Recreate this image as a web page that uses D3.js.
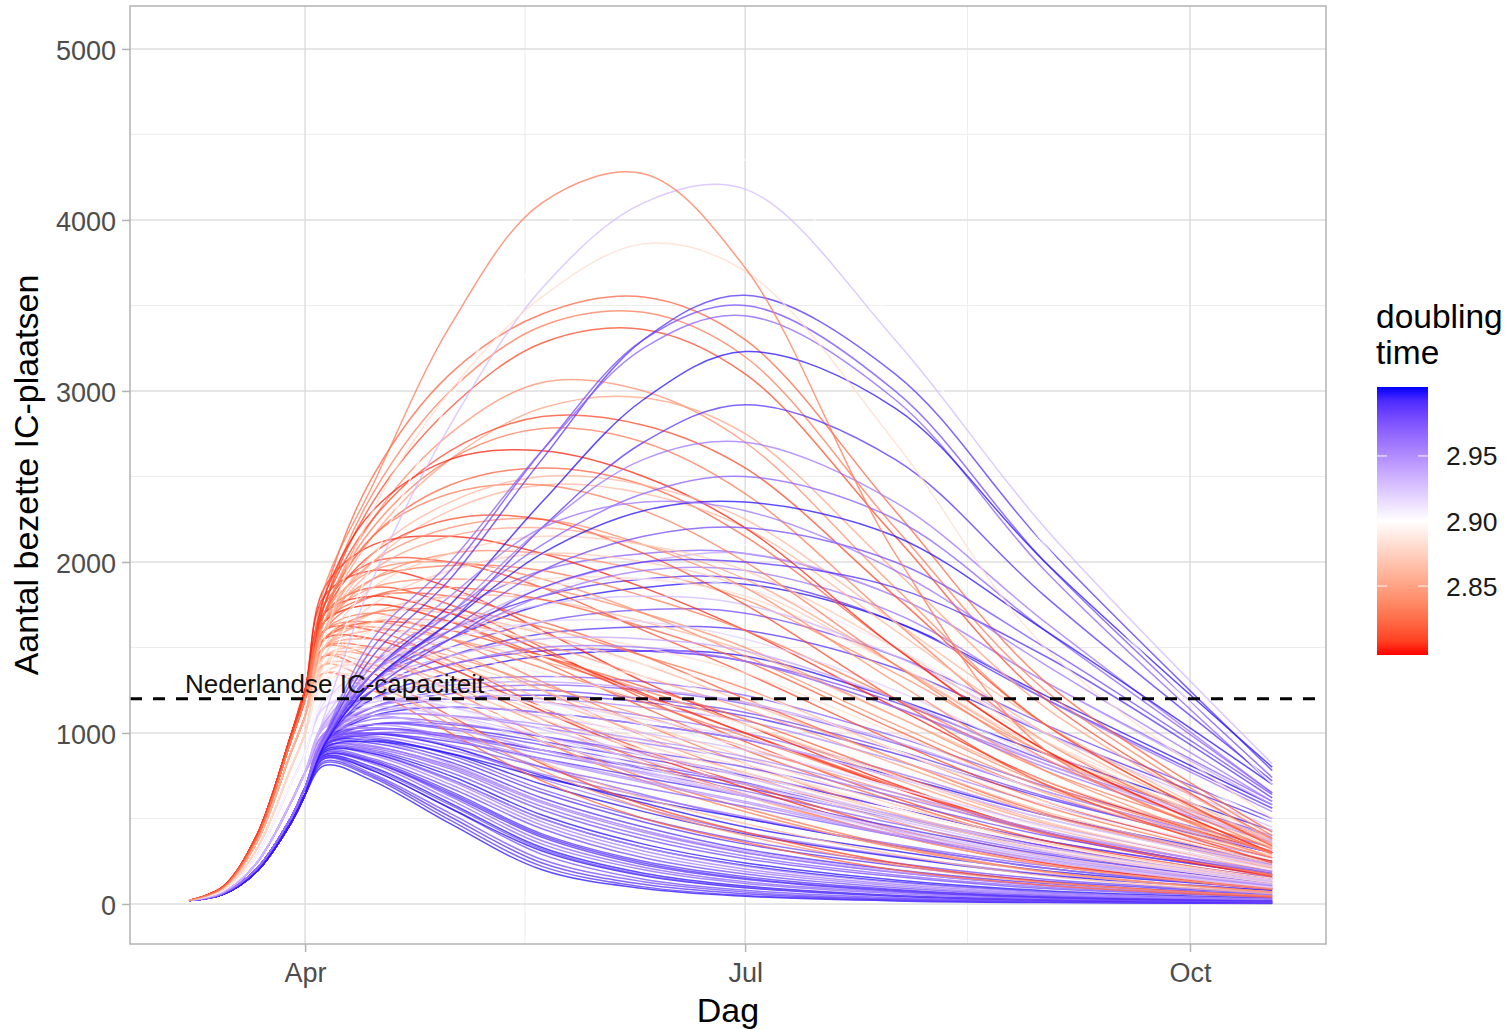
<!DOCTYPE html>
<html>
<head>
<meta charset="utf-8">
<script src="https://cdn.jsdelivr.net/npm/d3@7"></script>
<style>
  body { margin: 0; background: #fff; }
  svg text { font-family: "Liberation Sans", Arial, sans-serif; }
</style>
</head>
<body>
<svg id="chart" width="1506" height="1029"></svg>
<script>
const sampleDates = ["2020-03-08", "2020-03-15", "2020-03-22", "2020-03-29", "2020-04-01", "2020-04-05",
  "2020-04-15", "2020-05-01", "2020-05-20", "2020-06-10", "2020-07-01", "2020-08-01", "2020-09-01", "2020-10-18"];

// Each row: [doubling time, IC beds at each sample date]
// blue runs that peak early and low
const lowBlueRuns = [
  [3.00, 20, 56, 190, 470, 640, 810, 720, 470, 200, 90, 45, 18, 8, 3],
  [2.99, 20, 56, 190, 470, 640, 825, 740, 490, 220, 100, 50, 22, 10, 4],
  [2.99, 20, 56, 190, 470, 640, 835, 750, 510, 240, 115, 60, 26, 12, 5],
  [2.98, 20, 60, 205, 500, 680, 850, 760, 530, 260, 130, 70, 30, 14, 6],
  [2.98, 20, 60, 205, 500, 680, 860, 780, 560, 290, 145, 80, 36, 17, 7],
  [3.00, 20, 56, 190, 470, 640, 850, 780, 560, 310, 165, 95, 45, 22, 9],
  [3.00, 20, 56, 190, 470, 640, 860, 800, 590, 330, 180, 105, 50, 25, 10],
  [2.97, 20, 60, 205, 500, 680, 870, 820, 610, 350, 200, 120, 60, 30, 13],
  [2.97, 20, 60, 205, 500, 680, 870, 830, 630, 370, 215, 130, 68, 34, 15],
  [2.99, 20, 56, 190, 470, 640, 870, 830, 640, 390, 230, 145, 75, 38, 16],
  [2.99, 20, 56, 190, 470, 640, 880, 840, 660, 410, 250, 160, 85, 44, 19],
  [2.98, 20, 60, 205, 500, 680, 890, 850, 680, 440, 270, 175, 95, 50, 22],
  [2.96, 20, 60, 205, 500, 680, 900, 870, 700, 460, 290, 190, 105, 56, 25],
  [2.96, 20, 60, 205, 500, 680, 910, 880, 720, 480, 310, 205, 115, 62, 28],
  [3.00, 20, 56, 190, 470, 640, 890, 880, 730, 500, 330, 225, 130, 70, 32],
  [3.00, 20, 56, 190, 470, 640, 900, 890, 750, 520, 350, 240, 140, 78, 35],
  [2.98, 20, 60, 205, 500, 680, 910, 900, 770, 550, 380, 265, 160, 90, 40],
  [2.97, 20, 60, 205, 500, 680, 920, 910, 790, 570, 400, 280, 170, 98, 45],
  [2.97, 20, 60, 205, 500, 680, 920, 920, 810, 600, 430, 300, 185, 108, 50],
  [2.99, 20, 56, 190, 470, 640, 930, 940, 830, 620, 450, 320, 200, 120, 55],
  [2.99, 20, 56, 190, 470, 640, 940, 955, 850, 650, 480, 350, 225, 135, 62],
  [2.98, 20, 60, 205, 500, 680, 950, 970, 870, 670, 500, 370, 240, 145, 68],
  [2.96, 20, 60, 205, 500, 680, 960, 1000, 920, 730, 560, 420, 280, 175, 82],
  [3.00, 20, 56, 190, 470, 640, 955, 995, 920, 750, 590, 450, 310, 195, 92],
  [2.97, 20, 60, 205, 500, 680, 975, 1030, 970, 800, 640, 500, 350, 225, 110],
  [2.99, 20, 56, 190, 470, 640, 870, 830, 650, 400, 240, 150, 80, 40, 17],
  [2.98, 20, 60, 205, 500, 680, 855, 790, 580, 320, 170, 100, 48, 23, 10],
  [2.95, 20, 66, 240, 590, 770, 915, 890, 730, 500, 330, 220, 125, 68, 30],
  [2.96, 20, 60, 205, 500, 680, 935, 925, 800, 590, 420, 300, 185, 110, 50],
  [3.00, 20, 56, 190, 470, 640, 935, 960, 880, 700, 540, 410, 275, 170, 80],
  [2.94, 20, 66, 240, 590, 770, 955, 955, 820, 600, 430, 310, 190, 110, 50]
];

// blue runs with a flat, moderate wave
const midBlueRuns = [
  [2.97, 20, 60, 205, 500, 680, 960, 1080, 1060, 980, 870, 760, 560, 370, 170],
  [2.98, 20, 60, 205, 500, 680, 950, 1050, 1020, 930, 820, 710, 520, 340, 155],
  [2.99, 20, 56, 190, 470, 640, 930, 1020, 990, 900, 790, 680, 500, 330, 150],
  [3.00, 20, 56, 190, 470, 640, 940, 1100, 1150, 1120, 1050, 960, 750, 520, 250],
  [2.97, 20, 60, 205, 500, 680, 970, 1200, 1300, 1330, 1300, 1220, 980, 690, 330],
  [2.98, 20, 60, 205, 500, 680, 960, 1150, 1230, 1250, 1200, 1120, 900, 630, 300],
  [2.99, 20, 56, 190, 470, 640, 940, 1120, 1200, 1220, 1180, 1100, 880, 620, 300],
  [2.96, 20, 60, 205, 500, 680, 980, 1250, 1400, 1480, 1480, 1420, 1150, 820, 390],
  [3.00, 20, 56, 190, 470, 640, 950, 1200, 1350, 1450, 1480, 1450, 1200, 880, 430],
  [2.98, 20, 60, 205, 500, 680, 970, 1300, 1500, 1650, 1720, 1700, 1450, 1050, 500],
  [2.99, 20, 56, 190, 470, 640, 960, 1350, 1600, 1800, 1900, 1900, 1650, 1200, 560],
  [2.97, 20, 60, 205, 500, 680, 980, 1400, 1700, 1950, 2050, 2050, 1800, 1300, 600],
  [3.00, 20, 56, 190, 470, 640, 950, 1300, 1550, 1750, 1850, 1870, 1650, 1220, 580],
  [2.96, 20, 60, 205, 500, 680, 970, 1150, 1200, 1180, 1100, 1000, 770, 520, 240],
  [2.97, 20, 60, 205, 500, 680, 960, 1150, 1250, 1280, 1250, 1170, 940, 660, 310],
  [2.99, 20, 56, 190, 470, 640, 930, 1050, 1030, 950, 850, 750, 560, 370, 170],
  [2.95, 20, 66, 240, 590, 770, 1000, 1150, 1200, 1200, 1150, 1070, 840, 580, 270],
  [3.00, 20, 56, 190, 470, 640, 910, 950, 880, 740, 610, 500, 340, 210, 90],
  [2.96, 20, 60, 205, 500, 680, 940, 980, 900, 760, 630, 510, 340, 210, 90],
  [2.98, 20, 60, 205, 500, 680, 930, 1000, 980, 900, 800, 700, 510, 340, 150],
  [2.97, 20, 60, 205, 500, 680, 950, 1020, 980, 880, 770, 660, 470, 300, 130],
  [2.99, 20, 56, 190, 470, 640, 960, 1250, 1450, 1580, 1620, 1600, 1380, 1000, 480],
  [2.98, 20, 60, 205, 500, 680, 970, 1250, 1400, 1480, 1480, 1420, 1180, 840, 400]
];

// red runs that peak in April
const earlyRedRuns = [
  [2.80, 20, 100, 400, 980, 1250, 1800, 1950, 1850, 1600, 1300, 1050, 700, 420, 170],
  [2.81, 20, 100, 400, 980, 1250, 1700, 1850, 1750, 1500, 1200, 950, 620, 370, 150],
  [2.82, 20, 96, 385, 950, 1200, 1650, 1750, 1650, 1420, 1150, 900, 600, 350, 140],
  [2.83, 20, 96, 385, 950, 1200, 1600, 1700, 1550, 1300, 1050, 820, 530, 310, 120],
  [2.84, 20, 96, 385, 950, 1200, 1550, 1620, 1480, 1250, 980, 760, 480, 280, 110],
  [2.80, 20, 100, 400, 980, 1250, 1550, 1550, 1380, 1130, 880, 680, 420, 240, 90],
  [2.82, 20, 96, 385, 950, 1200, 1500, 1500, 1330, 1080, 840, 640, 400, 230, 85],
  [2.85, 20, 90, 360, 880, 1100, 1450, 1450, 1280, 1050, 820, 630, 400, 230, 90],
  [2.83, 20, 96, 385, 950, 1200, 1500, 1450, 1250, 980, 740, 560, 340, 190, 70],
  [2.86, 20, 90, 360, 880, 1100, 1400, 1380, 1200, 950, 720, 540, 330, 185, 65],
  [2.81, 20, 100, 400, 980, 1250, 1750, 2000, 2000, 1850, 1600, 1350, 950, 600, 250],
  [2.84, 20, 96, 385, 950, 1200, 1700, 1950, 2000, 1900, 1700, 1450, 1050, 680, 280],
  [2.82, 20, 96, 385, 950, 1200, 1650, 1800, 1800, 1650, 1450, 1200, 850, 530, 220],
  [2.86, 20, 90, 360, 880, 1100, 1550, 1700, 1700, 1580, 1400, 1180, 850, 540, 230],
  [2.83, 20, 96, 385, 950, 1200, 1600, 1650, 1550, 1380, 1180, 980, 680, 420, 170],
  [2.85, 20, 90, 360, 880, 1100, 1500, 1600, 1550, 1420, 1250, 1050, 750, 470, 200],
  [2.80, 20, 100, 400, 980, 1250, 1850, 2100, 2150, 2050, 1850, 1600, 1150, 720, 300],
  [2.84, 20, 96, 385, 950, 1200, 1650, 1850, 1900, 1850, 1700, 1500, 1100, 700, 300],
  [2.81, 20, 100, 400, 980, 1250, 1450, 1350, 1100, 820, 580, 420, 240, 130, 45],
  [2.84, 20, 96, 385, 950, 1200, 1400, 1300, 1050, 780, 560, 400, 230, 125, 45],
  [2.82, 20, 96, 385, 950, 1200, 1350, 1250, 1000, 720, 500, 360, 200, 110, 40],
  [2.86, 20, 90, 360, 880, 1100, 1350, 1280, 1080, 830, 620, 470, 290, 165, 60],
  [2.81, 20, 100, 400, 980, 1250, 1600, 1600, 1420, 1150, 900, 700, 440, 250, 95],
  [2.85, 20, 90, 360, 880, 1100, 1550, 1650, 1600, 1450, 1250, 1050, 730, 450, 180],
  [2.83, 20, 96, 385, 950, 1200, 1650, 1900, 1980, 1950, 1800, 1600, 1200, 780, 330],
  [2.80, 20, 100, 400, 980, 1250, 1700, 1800, 1700, 1480, 1230, 1000, 680, 410, 160],
  [2.86, 20, 90, 360, 880, 1100, 1500, 1700, 1800, 1780, 1650, 1480, 1100, 720, 310],
  [2.84, 20, 96, 385, 950, 1200, 1450, 1400, 1200, 950, 720, 540, 330, 190, 70],
  [2.82, 20, 96, 385, 950, 1200, 1550, 1650, 1600, 1450, 1270, 1080, 760, 480, 190],
  [2.84, 20, 96, 385, 950, 1200, 1600, 1900, 2050, 2050, 1950, 1780, 1350, 880, 380],
  [2.81, 20, 100, 400, 980, 1250, 1650, 1750, 1650, 1450, 1220, 1000, 690, 420, 170]
];

// mixed runs in the middle band
const mixedRuns = [
  [2.90, 20, 75, 285, 700, 880, 1250, 1300, 1200, 1050, 900, 760, 540, 350, 150],
  [2.86, 20, 90, 360, 880, 1100, 1450, 1500, 1400, 1200, 1000, 820, 560, 350, 140],
  [2.93, 20, 66, 240, 590, 770, 1050, 1180, 1180, 1100, 1000, 900, 680, 460, 210],
  [2.84, 20, 96, 385, 950, 1200, 1500, 1550, 1450, 1280, 1100, 920, 650, 410, 170],
  [2.97, 20, 60, 205, 500, 680, 950, 1000, 930, 800, 680, 570, 400, 250, 105],
  [2.88, 20, 82, 320, 790, 1000, 1350, 1420, 1330, 1150, 960, 800, 560, 350, 140],
  [2.95, 20, 66, 240, 590, 770, 1000, 1120, 1150, 1120, 1050, 960, 740, 500, 230],
  [2.82, 20, 96, 385, 950, 1200, 1600, 1800, 1850, 1780, 1620, 1420, 1020, 650, 270],
  [2.99, 20, 56, 190, 470, 640, 920, 990, 950, 850, 740, 630, 450, 290, 125],
  [2.91, 20, 75, 285, 700, 880, 1200, 1300, 1280, 1180, 1050, 920, 680, 450, 200],
  [2.85, 20, 90, 360, 880, 1100, 1500, 1650, 1650, 1520, 1330, 1140, 820, 520, 210],
  [2.96, 20, 60, 205, 500, 680, 970, 1100, 1100, 1030, 940, 840, 630, 420, 190],
  [2.83, 20, 96, 385, 950, 1200, 1550, 1700, 1720, 1620, 1450, 1260, 900, 570, 240],
  [2.98, 20, 60, 205, 500, 680, 950, 1050, 1050, 980, 890, 800, 600, 400, 180],
  [2.89, 20, 82, 320, 790, 1000, 1300, 1450, 1500, 1450, 1330, 1190, 900, 600, 260],
  [2.94, 20, 66, 240, 590, 770, 1040, 1200, 1280, 1300, 1260, 1180, 950, 660, 300],
  [2.92, 20, 75, 285, 700, 880, 1150, 1250, 1250, 1180, 1080, 970, 740, 500, 220],
  [2.90, 20, 75, 285, 700, 880, 1200, 1250, 1180, 1030, 870, 720, 500, 310, 125],
  [2.95, 20, 66, 240, 590, 770, 990, 1030, 960, 840, 710, 590, 400, 250, 105],
  [2.88, 20, 82, 320, 790, 1000, 1300, 1350, 1250, 1080, 900, 740, 510, 320, 125],
  [2.93, 20, 66, 240, 590, 770, 1040, 1100, 1030, 900, 770, 640, 440, 280, 115],
  [2.87, 20, 82, 320, 790, 1000, 1350, 1400, 1300, 1120, 930, 770, 530, 330, 130]
];

// pale runs around the midpoint
const paleRuns = [
  [2.88, 20, 82, 320, 790, 1000, 1400, 1600, 1650, 1600, 1500, 1350, 1000, 650, 280],
  [2.89, 20, 82, 320, 790, 1000, 1300, 1450, 1450, 1350, 1200, 1050, 750, 480, 200],
  [2.90, 20, 75, 285, 700, 880, 1250, 1350, 1300, 1150, 980, 820, 560, 350, 140],
  [2.91, 20, 75, 285, 700, 880, 1200, 1250, 1150, 980, 800, 650, 430, 260, 100],
  [2.87, 20, 82, 320, 790, 1000, 1450, 1750, 1950, 2050, 2000, 1850, 1400, 900, 380],
  [2.90, 20, 75, 285, 700, 880, 1250, 1600, 1850, 2050, 2150, 2100, 1700, 1150, 480],
  [2.92, 20, 75, 285, 700, 880, 1150, 1200, 1100, 950, 780, 630, 420, 250, 95],
  [2.88, 20, 82, 320, 790, 1000, 1400, 1650, 1800, 1900, 1900, 1800, 1400, 950, 400],
  [2.89, 20, 82, 320, 790, 1000, 1350, 1550, 1600, 1550, 1400, 1250, 900, 580, 240],
  [2.91, 20, 75, 285, 700, 880, 1220, 1500, 1700, 1850, 1900, 1850, 1500, 1000, 430],
  [2.87, 20, 82, 320, 790, 1000, 1400, 1500, 1420, 1250, 1050, 860, 580, 360, 140],
  [2.92, 20, 75, 285, 700, 880, 1180, 1400, 1550, 1650, 1650, 1550, 1250, 850, 370],
  [2.93, 20, 66, 240, 590, 770, 1060, 1200, 1150, 1020, 880, 740, 520, 330, 140],
  [2.94, 20, 66, 240, 590, 770, 1030, 1100, 1030, 900, 760, 630, 430, 270, 110],
  [2.95, 20, 66, 240, 590, 770, 990, 1050, 980, 850, 720, 600, 410, 260, 105],
  [2.93, 20, 66, 240, 590, 770, 1080, 1400, 1600, 1750, 1800, 1750, 1450, 1000, 450],
  [2.94, 20, 66, 240, 590, 770, 1060, 1300, 1450, 1550, 1550, 1480, 1200, 820, 370],
  [2.96, 20, 60, 205, 500, 680, 990, 1250, 1400, 1500, 1500, 1420, 1150, 800, 360],
  [2.95, 20, 66, 240, 590, 770, 1000, 1100, 1100, 1050, 960, 860, 650, 430, 190],
  [2.93, 20, 66, 240, 590, 770, 1050, 1150, 1100, 980, 840, 700, 490, 310, 130],
  [2.96, 20, 60, 205, 500, 680, 990, 1300, 1550, 1800, 1950, 1950, 1700, 1200, 540],
  [2.94, 20, 66, 240, 590, 770, 1060, 1350, 1600, 1850, 2000, 2050, 1800, 1300, 580]
];

// red runs that keep rising into May / June
const lateRedRuns = [
  [2.82, 20, 96, 385, 950, 1200, 1800, 2500, 3100, 3450, 3550, 3300, 2300, 1300, 420],
  [2.83, 20, 96, 385, 950, 1200, 1750, 2400, 3000, 3380, 3460, 3200, 2200, 1250, 400],
  [2.81, 20, 100, 400, 980, 1250, 1750, 2350, 2900, 3280, 3360, 3100, 2150, 1200, 380],
  [2.84, 20, 96, 385, 950, 1200, 1700, 2250, 2750, 3050, 3000, 2700, 1850, 1050, 350],
  [2.85, 20, 90, 360, 880, 1100, 1650, 2150, 2600, 2900, 2960, 2750, 1950, 1150, 380],
  [2.83, 20, 96, 385, 950, 1200, 1700, 2200, 2600, 2780, 2700, 2400, 1650, 950, 320],
  [2.82, 20, 96, 385, 950, 1200, 1700, 2150, 2450, 2550, 2450, 2150, 1500, 900, 300],
  [2.86, 20, 90, 360, 880, 1100, 1600, 2000, 2300, 2450, 2400, 2200, 1600, 1000, 340],
  [2.84, 20, 96, 385, 950, 1200, 1650, 2000, 2200, 2250, 2100, 1850, 1300, 780, 270],
  [2.81, 20, 100, 400, 980, 1250, 1700, 2050, 2250, 2250, 2050, 1750, 1200, 700, 240],
  [2.85, 20, 90, 360, 880, 1100, 1600, 1950, 2150, 2200, 2100, 1900, 1400, 880, 300],
  [2.87, 20, 82, 320, 790, 1000, 1500, 1850, 2050, 2150, 2100, 1950, 1500, 950, 330],
  [2.80, 20, 100, 400, 980, 1250, 1800, 2300, 2600, 2650, 2500, 2200, 1500, 900, 300],
  [2.83, 20, 96, 385, 950, 1200, 1700, 2150, 2400, 2450, 2300, 2000, 1400, 850, 290],
  [2.86, 20, 90, 360, 880, 1100, 1600, 2050, 2350, 2500, 2450, 2250, 1650, 1050, 360],
  [2.81, 20, 100, 400, 980, 1250, 1750, 2250, 2650, 2850, 2800, 2550, 1800, 1050, 340]
];

// blue runs with a late, high summer peak
const lateBlueRuns = [
  [2.99, 20, 56, 190, 470, 640, 960, 1450, 1900, 2600, 3300, 3560, 3100, 2100, 780],
  [2.98, 20, 60, 205, 500, 680, 970, 1500, 1950, 2650, 3300, 3500, 3000, 2000, 740],
  [2.97, 20, 60, 205, 500, 680, 980, 1550, 2000, 2650, 3250, 3440, 2950, 1950, 700],
  [3.00, 20, 56, 190, 470, 640, 940, 1350, 1750, 2350, 2950, 3230, 2900, 2000, 800],
  [2.99, 20, 56, 190, 470, 640, 940, 1300, 1650, 2200, 2700, 2920, 2600, 1800, 720],
  [2.96, 20, 60, 205, 500, 680, 960, 1350, 1700, 2200, 2600, 2700, 2350, 1650, 650],
  [2.98, 20, 60, 205, 500, 680, 940, 1300, 1600, 1950, 2150, 2200, 2000, 1500, 640],
  [2.99, 20, 56, 190, 470, 640, 930, 1250, 1550, 1850, 2000, 2000, 1850, 1450, 620],
  [2.97, 20, 60, 205, 500, 680, 950, 1350, 1700, 2100, 2400, 2500, 2250, 1600, 650],
  [3.00, 20, 56, 190, 470, 640, 930, 1300, 1650, 2050, 2300, 2350, 2150, 1600, 700],
  [2.96, 20, 60, 205, 500, 680, 960, 1400, 1800, 2200, 2350, 2300, 1950, 1400, 600]
];

// the few highest runs
const peakRuns = [
  [2.90, 20, 75, 285, 700, 880, 1300, 2000, 2950, 3800, 4350, 4350, 3400, 2100, 700],
  [2.93, 20, 66, 240, 590, 770, 1100, 1900, 2800, 3600, 4100, 4180, 3300, 2200, 820],
  [2.88, 20, 82, 320, 790, 1000, 1550, 2300, 3000, 3550, 3860, 3700, 2700, 1500, 500],
  [2.83, 20, 96, 385, 950, 1200, 1850, 2450, 3380, 4100, 4270, 3720, 2050, 900, 300]
];

const runs = [].concat(lowBlueRuns, midBlueRuns, earlyRedRuns, mixedRuns, paleRuns,
  lateRedRuns, lateBlueRuns, peakRuns);

const capacity = 1200;
const capacityLabel = "Nederlandse IC-capaciteit";
const yTicks = [0, 1000, 2000, 3000, 4000, 5000];
const yMinor = [500, 1500, 2500, 3500, 4500];
const xTicks = ["2020-04-01", "2020-07-01", "2020-10-01"];
const xMinor = ["2020-05-16T12:00", "2020-08-16"];
const legendTicks = [2.85, 2.90, 2.95];
const colourStops = [2.797, 2.9, 3.003];

const svg = d3.select("#chart");
const parse = s => new Date(s + (s.length === 10 ? "T00:00Z" : "Z"));
const dates = sampleDates.map(parse);

const [pLeft, pRight, pTop, pBottom] = [130, 1326, 6, 944];

const x = d3.scaleUtc()
  .domain([Date.UTC(2020, 1, 24, 19), Date.UTC(2020, 9, 29, 3)])
  .range([pLeft, pRight]);
const y = d3.scaleLinear().domain([-234, 5251]).range([pBottom, pTop]);

const colour = d3.scaleLinear()
  .domain(colourStops)
  .range(["#ff0000", "#ffffff", "#0000ff"])
  .interpolate(d3.interpolateLab)
  .clamp(true);

// grid
const grid = svg.append("g");
grid.selectAll("line.ymin").data(yMinor).enter().append("line")
  .attr("x1", pLeft).attr("x2", pRight).attr("y1", d => y(d)).attr("y2", d => y(d))
  .attr("stroke", "#ececec").attr("stroke-width", 1);
grid.selectAll("line.xmin").data(xMinor.map(parse)).enter().append("line")
  .attr("x1", d => x(d)).attr("x2", d => x(d)).attr("y1", pTop).attr("y2", pBottom)
  .attr("stroke", "#ececec").attr("stroke-width", 1);
grid.selectAll("line.ymaj").data(yTicks).enter().append("line")
  .attr("x1", pLeft).attr("x2", pRight).attr("y1", d => y(d)).attr("y2", d => y(d))
  .attr("stroke", "#dedede").attr("stroke-width", 1.5);
grid.selectAll("line.xmaj").data(xTicks.map(parse)).enter().append("line")
  .attr("x1", d => x(d)).attr("x2", d => x(d)).attr("y1", pTop).attr("y2", pBottom)
  .attr("stroke", "#dedede").attr("stroke-width", 1.5);

// runs
const line = d3.line()
  .x((d, i) => x(dates[i]))
  .y(d => y(d))
  .curve(d3.curveCatmullRom.alpha(0.5));

svg.append("g").selectAll("path").data(runs).enter().append("path")
  .attr("d", d => line(d.slice(1)))
  .attr("fill", "none")
  .attr("stroke", d => colour(d[0]))
  .attr("stroke-width", 1.5)
  .attr("stroke-opacity", 0.75);

// capacity line
svg.append("line")
  .attr("x1", pLeft).attr("x2", pRight)
  .attr("y1", y(capacity)).attr("y2", y(capacity))
  .attr("stroke", "#000").attr("stroke-width", 3)
  .attr("stroke-dasharray", "12,11");
svg.append("text")
  .attr("x", 185).attr("y", y(capacity) - 6)
  .attr("font-size", 26).attr("fill", "#111")
  .text(capacityLabel);

// panel border
svg.append("rect")
  .attr("x", pLeft).attr("y", pTop).attr("width", pRight - pLeft).attr("height", pBottom - pTop)
  .attr("fill", "none").attr("stroke", "#b3b3b3").attr("stroke-width", 1.5);

// axes
const xAxis = svg.append("g")
  .attr("transform", `translate(0,${pBottom})`)
  .call(d3.axisBottom(x).tickValues(xTicks.map(parse)).tickFormat(d3.utcFormat("%b"))
    .tickSize(8).tickPadding(11));
const yAxis = svg.append("g")
  .attr("transform", `translate(${pLeft},0)`)
  .call(d3.axisLeft(y).tickValues(yTicks).tickFormat(d3.format("d")).tickSize(8).tickPadding(6));
[xAxis, yAxis].forEach(g => {
  g.select(".domain").remove();
  g.selectAll(".tick line").attr("stroke", "#b3b3b3").attr("stroke-width", 1.5);
  g.selectAll(".tick text").attr("font-size", 27).attr("fill", "#4d4d4d")
    .style("font-family", "Liberation Sans, Arial, sans-serif");
});
yAxis.selectAll(".tick text").attr("dy", "0.38em");

svg.append("text")
  .attr("x", (pLeft + pRight) / 2).attr("y", 1022)
  .attr("text-anchor", "middle").attr("font-size", 34).attr("fill", "#000")
  .text("Dag");
svg.append("text")
  .attr("transform", `translate(38,${(pTop + pBottom) / 2}) rotate(-90)`)
  .attr("text-anchor", "middle").attr("font-size", 34).attr("fill", "#000")
  .text("Aantal bezette IC-plaatsen");

// legend
const [barX, barW, barTop, barBottom] = [1377, 51, 387, 655];
const ly = d3.scaleLinear().domain([colourStops[0], colourStops[2]]).range([barBottom, barTop]);
const grad = svg.append("defs").append("linearGradient")
  .attr("id", "dt-grad").attr("x1", 0).attr("x2", 0).attr("y1", 1).attr("y2", 0);
d3.range(0, 1.0001, 0.05).forEach(t => {
  const v = colourStops[0] + t * (colourStops[2] - colourStops[0]);
  grad.append("stop").attr("offset", t).attr("stop-color", colour(v));
});
svg.append("rect")
  .attr("x", barX).attr("y", barTop).attr("width", barW).attr("height", barBottom - barTop)
  .attr("fill", "url(#dt-grad)");
const lt = svg.append("g");
lt.selectAll("line.l").data(legendTicks).enter().append("line")
  .attr("x1", barX).attr("x2", barX + 10).attr("y1", d => ly(d)).attr("y2", d => ly(d))
  .attr("stroke", "#fff").attr("stroke-width", 1.2).attr("stroke-opacity", 0.8);
lt.selectAll("line.r").data(legendTicks).enter().append("line")
  .attr("x1", barX + barW - 10).attr("x2", barX + barW).attr("y1", d => ly(d)).attr("y2", d => ly(d))
  .attr("stroke", "#fff").attr("stroke-width", 1.2).attr("stroke-opacity", 0.8);
lt.selectAll("text").data(legendTicks).enter().append("text")
  .attr("x", 1446).attr("y", d => ly(d)).attr("dy", "0.36em")
  .attr("font-size", 26.5).attr("fill", "#1a1a1a")
  .text(d => d.toFixed(2));
svg.append("text").attr("x", 1376).attr("y", 328).attr("font-size", 33.5).attr("fill", "#000").text("doubling");
svg.append("text").attr("x", 1376).attr("y", 364).attr("font-size", 33.5).attr("fill", "#000").text("time");
</script>
</body>
</html>
